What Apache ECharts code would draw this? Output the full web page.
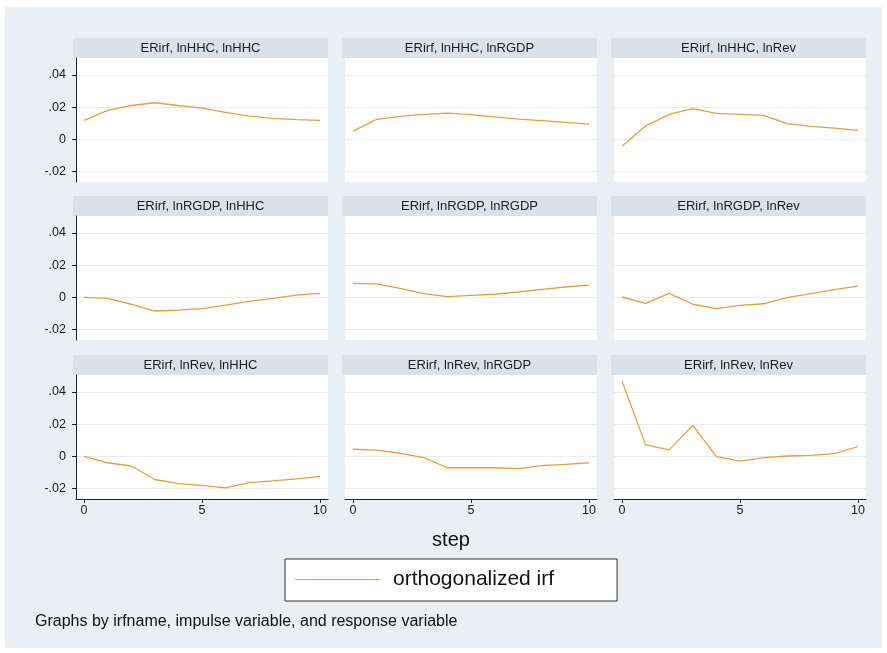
<!DOCTYPE html>
<html>
<head>
<meta charset="utf-8">
<title>ERirf orthogonalized impulse responses</title>
<script src="https://cdn.jsdelivr.net/npm/echarts@6/dist/echarts.min.js"></script>
<style>
  html, body { margin: 0; padding: 0; background: #ffffff; }
  #chart { width: 887px; height: 653px; }
</style>
</head>
<body>
<div id="chart"></div>
<script>
// Forecast steps and variable names
const steps = [0, 1, 2, 3, 4, 5, 6, 7, 8, 9, 10];
const impulseVars = ['lnHHC', 'lnRGDP', 'lnRev'];
const responseVars = ['lnHHC', 'lnRGDP', 'lnRev'];
const irfName = 'ERirf';

// Orthogonalized IRF values, one array per impulse -> response pair
const irf_lnHHC_lnHHC   = [0.0118, 0.0180, 0.0210, 0.0227, 0.0210, 0.0194, 0.0167, 0.0144, 0.0130, 0.0122, 0.0118];
const irf_lnHHC_lnRGDP  = [0.0051, 0.0124, 0.0142, 0.0155, 0.0163, 0.0153, 0.0140, 0.0126, 0.0116, 0.0105, 0.0095];
const irf_lnHHC_lnRev   = [-0.0043, 0.0083, 0.0155, 0.0190, 0.0161, 0.0155, 0.0149, 0.0097, 0.0080, 0.0070, 0.0056];
const irf_lnRGDP_lnHHC  = [0.0000, -0.0006, -0.0043, -0.0085, -0.0080, -0.0070, -0.0048, -0.0025, -0.0006, 0.0014, 0.0025];
const irf_lnRGDP_lnRGDP = [0.0087, 0.0083, 0.0056, 0.0023, 0.0004, 0.0012, 0.0019, 0.0033, 0.0050, 0.0064, 0.0076];
const irf_lnRGDP_lnRev  = [0.0002, -0.0037, 0.0025, -0.0043, -0.0070, -0.0050, -0.0040, -0.0002, 0.0023, 0.0048, 0.0070];
const irf_lnRev_lnHHC   = [0.0000, -0.0040, -0.0060, -0.0144, -0.0170, -0.0180, -0.0196, -0.0163, -0.0152, -0.0140, -0.0125];
const irf_lnRev_lnRGDP  = [0.0044, 0.0038, 0.0019, -0.0008, -0.0071, -0.0071, -0.0071, -0.0077, -0.0058, -0.0050, -0.0040];
const irf_lnRev_lnRev   = [0.0467, 0.0071, 0.0040, 0.0192, -0.0002, -0.0030, -0.0008, 0.0002, 0.0006, 0.0017, 0.0061];

const irfValues = [
  [irf_lnHHC_lnHHC,  irf_lnHHC_lnRGDP,  irf_lnHHC_lnRev],
  [irf_lnRGDP_lnHHC, irf_lnRGDP_lnRGDP, irf_lnRGDP_lnRev],
  [irf_lnRev_lnHHC,  irf_lnRev_lnRGDP,  irf_lnRev_lnRev]
];

// Tick labels
const yTickValues = [-0.02, 0, 0.02, 0.04];
const xTickValues = [0, 5, 10];

const seriesName = 'orthogonalized irf';
const xAxisTitle = 'step';
const noteText = 'Graphs by irfname, impulse variable, and response variable';

// Layout
const FONT = '"Liberation Sans", Arial, Helvetica, sans-serif';
const colLeft = [76, 345, 614];
const rowTop = [58, 216, 375];
const plotW = 252;
const plotH = 124;
const headH = 20;
const lineColor = '#e5a040';
const axisColor = '#1e2228';

function fmtTick(v) {
  if (Math.abs(v) < 1e-12) return '0';
  const s = Math.abs(v).toFixed(2).replace(/^0/, '');
  return (v < 0 ? '-' : '') + s;
}

const grids = [], xAxes = [], yAxes = [], series = [], graphics = [];

// Page background
graphics.push({
  type: 'rect', z: -100, silent: true,
  shape: { x: 5, y: 7, width: 877, height: 641 },
  style: { fill: '#e9eff2' }
});

for (let r = 0; r < 3; r++) {
  for (let c = 0; c < 3; c++) {
    const idx = r * 3 + c;
    const firstCol = c === 0;
    const lastRow = r === 2;

    grids.push({
      left: colLeft[c], top: rowTop[r], width: plotW, height: plotH,
      show: true, backgroundColor: '#ffffff', borderWidth: 0
    });

    xAxes.push({
      type: 'value', gridIndex: idx, min: -0.34, max: 10.34,
      axisLine: { show: lastRow, onZero: false, lineStyle: { color: axisColor, width: 1 } },
      axisTick: { show: lastRow, length: 4, customValues: xTickValues, lineStyle: { color: axisColor } },
      axisLabel: {
        show: lastRow, customValues: xTickValues, margin: 5,
        fontFamily: FONT, fontSize: 12.5, color: '#1a1a1a'
      },
      splitLine: { show: false }
    });

    yAxes.push({
      type: 'value', gridIndex: idx, min: -0.0265, max: 0.0505,
      axisLine: { show: firstCol, onZero: false, lineStyle: { color: axisColor, width: 1 } },
      axisTick: { show: firstCol, length: 4, customValues: yTickValues, lineStyle: { color: axisColor } },
      axisLabel: {
        show: firstCol, customValues: yTickValues, margin: 10,
        fontFamily: FONT, fontSize: 12.5, color: '#1a1a1a',
        formatter: fmtTick
      },
      splitLine: { show: true, lineStyle: { color: '#e6ecef', width: 1 } }
    });

    series.push({
      name: seriesName, type: 'line', xAxisIndex: idx, yAxisIndex: idx,
      data: steps.map((s, i) => [s, irfValues[r][c][i]]),
      showSymbol: false, symbol: 'none', smooth: false,
      lineStyle: { color: lineColor, width: 1.3 },
      itemStyle: { color: lineColor },
      animation: false
    });

    // Panel header strip with title
    graphics.push({
      type: 'group', silent: true,
      children: [
        {
          type: 'rect',
          shape: { x: colLeft[c] - 3, y: rowTop[r] - headH, width: plotW + 3, height: headH },
          style: { fill: '#d8e2e7' }
        },
        {
          type: 'text',
          x: colLeft[c] - 3 + (plotW + 3) / 2, y: rowTop[r] - headH / 2,
          style: {
            text: irfName + ', ' + impulseVars[r] + ', ' + responseVars[c],
            align: 'center', verticalAlign: 'middle',
            font: '13px ' + FONT, fill: '#1e1e1e'
          }
        }
      ]
    });
  }
}

// Shared x-axis title
graphics.push({
  type: 'text', silent: true, x: 451, y: 540,
  style: { text: xAxisTitle, align: 'center', verticalAlign: 'middle', font: '20px ' + FONT, fill: '#111' }
});

// Note under the legend
graphics.push({
  type: 'text', silent: true, x: 35, y: 622,
  style: { text: noteText, align: 'left', verticalAlign: 'middle', font: '16px ' + FONT, fill: '#111' }
});

const chart = echarts.init(document.getElementById('chart'), null, { renderer: 'canvas' });
chart.setOption({
  animation: false,
  backgroundColor: '#ffffff',
  grid: grids,
  xAxis: xAxes,
  yAxis: yAxes,
  series: series,
  graphic: graphics,
  legend: {
    data: [seriesName],
    left: 285, top: 559,
    orient: 'horizontal',
    backgroundColor: '#ffffff',
    borderColor: '#333333', borderWidth: 1, borderRadius: 0,
    padding: [10, 63, 11, 10],
    itemWidth: 85, itemHeight: 20,
    icon: 'path://M0,9.4 L85,9.4 L85,10.6 L0,10.6 Z',
    itemStyle: { color: lineColor },
    textStyle: { fontFamily: FONT, fontSize: 21, color: '#111', padding: [0, 0, 0, 8] },
    selectedMode: false
  }
});
</script>
</body>
</html>
